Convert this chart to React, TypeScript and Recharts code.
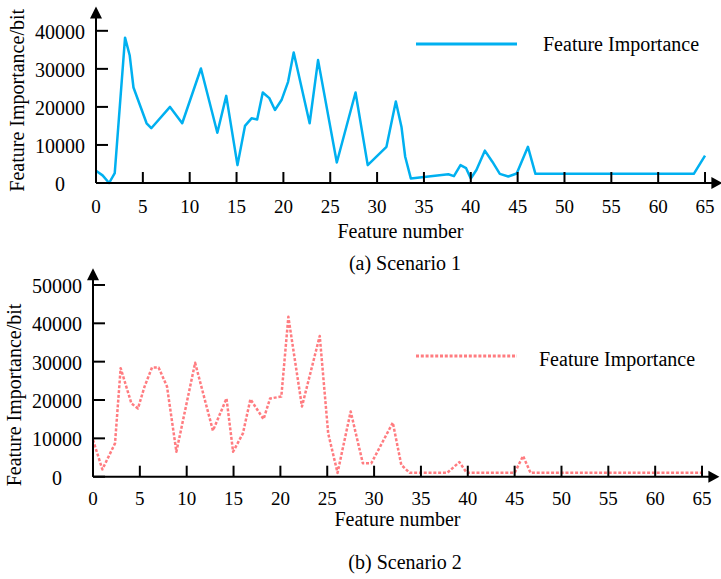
import React from "react";
import { LineChart, Line, XAxis, YAxis, Legend, ReferenceDot } from "recharts";

const FONT = '"Liberation Serif", "Times New Roman", serif';

// Scenario 1: feature number / importance
const s1X = [0, 0.7, 1.4, 2.0, 3.1, 3.6, 4.0, 5.4, 5.9, 7.9, 9.2, 11.2, 12.95, 13.9, 15.1, 15.9, 16.6, 17.2, 17.8, 18.5, 19.1, 19.8, 20.5, 21.1, 22.8, 23.7, 25.7, 27.7, 29.0, 31.0, 32.0, 32.6, 33.0, 33.6, 37.6, 38.2, 38.9, 39.5, 40.0, 40.6, 41.5, 42.3, 43.1, 44.0, 44.9, 46.1, 46.9, 63.8, 65];
const s1Y = [3200, 2000, 0, 2600, 38200, 33500, 25100, 15700, 14400, 20000, 15700, 30100, 13200, 22900, 4700, 15000, 17000, 16700, 23800, 22300, 19200, 21800, 26600, 34300, 15700, 32300, 5400, 23800, 4700, 9500, 21400, 14800, 6900, 1200, 2300, 1800, 4700, 3900, 1200, 3400, 8500, 5600, 2400, 1700, 2500, 9500, 2400, 2400, 7200];

// Scenario 2
const s2X = [0, 1.0, 2.35, 2.95, 4.1, 4.8, 5.5, 6.3, 7.0, 7.9, 8.9, 10.9, 12.8, 14.25, 14.95, 16.0, 16.8, 18.2, 18.9, 20.1, 20.85, 22.3, 24.2, 25.1, 26.1, 27.5, 28.8, 29.7, 32.0, 32.9, 33.8, 37.8, 39.1, 39.9, 45.0, 45.9, 46.7, 65];
const s2Y = [9600, 1900, 8700, 28300, 19100, 17800, 23500, 28500, 28500, 23500, 6500, 29700, 12000, 20400, 6500, 11300, 20200, 15000, 20400, 20900, 41700, 18300, 36700, 11300, 1000, 17000, 3500, 3500, 14100, 3100, 1000, 1000, 3800, 1000, 1000, 5400, 1000, 1000];

const xTicks = [0, 5, 10, 15, 20, 25, 30, 35, 40, 45, 50, 55, 60, 65];
const yTicks1 = [0, 10000, 20000, 30000, 40000];
const yTicks2 = [0, 10000, 20000, 30000, 40000, 50000];

const seriesName = "Feature Importance";
const captions = ["(a) Scenario 1", "(b) Scenario 2"];

const toRows = (xs: number[], ys: number[]) => xs.map((x, i) => ({ x, v: ys[i] }));

const YTick = (props: any) => {
  const { x, y, payload } = props;
  return (
    <g>
      <line x1={x} x2={x + 12} y1={y} y2={y} stroke="#000" strokeWidth={2} />
      <text x={x - 36} y={y + 8} textAnchor="middle" fontSize={20} fontFamily={FONT} fill="#000">
        {payload.value}
      </text>
    </g>
  );
};

const XTick = (props: any) => {
  const { x, y, payload, labelDy } = props;
  return (
    <g>
      <line x1={x} x2={x} y1={y} y2={y - 11} stroke="#000" strokeWidth={2} />
      <text x={x} y={y + labelDy} textAnchor="middle" fontSize={19} fontFamily={FONT} fill="#000">
        {payload.value}
      </text>
    </g>
  );
};

type PanelProps = {
  data: { x: number; v: number }[];
  color: string;
  dash?: string;
  height: number;
  margin: { top: number; right: number; left: number; bottom: number };
  yAxisWidth: number;
  xAxisHeight: number;
  yMax: number;
  yTicks: number[];
  labelDy: number;
  xLabelDy: number;
  yLabelX: number;
  yLabelShift: number;
  legendTop: number;
  legendTextX: number;
  legendBaseline: number;
};

function Panel(p: PanelProps) {
  return (
    <LineChart width={721} height={p.height} data={p.data} margin={p.margin}>
      <XAxis
        type="number"
        dataKey="x"
        domain={[0, 66]}
        ticks={xTicks}
        interval={0}
        height={p.xAxisHeight}
        axisLine={{ stroke: "#000", strokeWidth: 2 }}
        tickLine={false}
        tickSize={0}
        tickMargin={0}
        tick={<XTick labelDy={p.labelDy} />}
        label={(lp: any) => {
          const vb = lp.viewBox;
          return (
            <text
              x={vb.x + (vb.width * 32.5) / 66}
              y={vb.y + p.xLabelDy}
              textAnchor="middle"
              fontSize={20}
              fontFamily={FONT}
              fill="#000"
            >
              Feature number
            </text>
          );
        }}
      />
      <YAxis
        type="number"
        domain={[0, p.yMax]}
        ticks={p.yTicks}
        width={p.yAxisWidth}
        axisLine={{ stroke: "#000", strokeWidth: 2 }}
        tickLine={false}
        tickSize={0}
        tickMargin={0}
        tick={<YTick />}
        label={(lp: any) => {
          const vb = lp.viewBox;
          const cy = vb.y + vb.height / 2 + p.yLabelShift;
          return (
            <text
              x={p.yLabelX}
              y={cy}
              transform={`rotate(-90, ${p.yLabelX}, ${cy})`}
              textAnchor="middle"
              fontSize={20}
              fontFamily={FONT}
              fill="#000"
            >
              Feature Importance/bit
            </text>
          );
        }}
      />
      <Legend
        layout="vertical"
        align="center"
        verticalAlign="middle"
        wrapperStyle={{ left: 416, top: p.legendTop, width: 300, height: 30 }}
        content={(lp: any) => {
          const item = lp.payload && lp.payload[0];
          return (
            <svg width={300} height={30} style={{ display: "block" }}>
              <line x1={0} x2={101} y1={15} y2={15} stroke={p.color} strokeWidth={3} strokeDasharray={p.dash} />
              <text x={p.legendTextX} y={p.legendBaseline} fontSize={20} fontFamily={FONT} fill="#000">
                {item ? item.value : seriesName}
              </text>
            </svg>
          );
        }}
      />
      <Line
        type="linear"
        dataKey="v"
        name={seriesName}
        stroke={p.color}
        strokeWidth={2.5}
        strokeDasharray={p.dash}
        strokeLinejoin="round"
        dot={false}
        activeDot={false}
        isAnimationActive={false}
      />
      <ReferenceDot
        x={66}
        y={0}
        r={0}
        ifOverflow="visible"
        shape={(s: any) => (
          <polygon points={`${s.cx + 8},${s.cy} ${s.cx - 3},${s.cy - 6} ${s.cx - 3},${s.cy + 6}`} fill="#000" />
        )}
      />
      <ReferenceDot
        x={0}
        y={p.yMax}
        r={0}
        ifOverflow="visible"
        shape={(s: any) => (
          <polygon points={`${s.cx},${s.cy - 9} ${s.cx - 6},${s.cy + 3} ${s.cx + 6},${s.cy + 3}`} fill="#000" />
        )}
      />
    </LineChart>
  );
}

export default function App() {
  return (
    <div style={{ position: "absolute", left: 0, top: 0, width: 721, height: 579, background: "#fff" }}>
      <div style={{ position: "absolute", left: 0, top: 0 }}>
        <Panel
          data={toRows(s1X, s1Y)}
          color="#00B0F0"
          height={250}
          margin={{ top: 15.6, right: 6.6, left: 0, bottom: 0 }}
          yAxisWidth={96}
          xAxisHeight={67}
          yMax={44000}
          yTicks={yTicks1}
          labelDy={30}
          xLabelDy={55}
          yLabelX={24}
          yLabelShift={1}
          legendTop={29}
          legendTextX={127}
          legendBaseline={22}
        />
      </div>
      <div style={{ position: "absolute", left: 0, top: 250 }}>
        <Panel
          data={toRows(s2X, s2Y)}
          color="#FF7C80"
          dash="3 1.8"
          height={329}
          margin={{ top: 27.3, right: 9.6, left: 0, bottom: 0 }}
          yAxisWidth={93}
          xAxisHeight={102.3}
          yMax={52000}
          yTicks={yTicks2}
          labelDy={28.5}
          xLabelDy={49}
          yLabelX={21}
          yLabelShift={18}
          legendTop={91}
          legendTextX={123}
          legendBaseline={25}
        />
      </div>
      <svg width={721} height={579} style={{ position: "absolute", left: 0, top: 0, pointerEvents: "none" }}>
        <text x={405} y={270} textAnchor="middle" fontSize={20} fontFamily={FONT} fill="#000">
          {captions[0]}
        </text>
        <text x={405} y={569} textAnchor="middle" fontSize={20} fontFamily={FONT} fill="#000">
          {captions[1]}
        </text>
      </svg>
    </div>
  );
}
